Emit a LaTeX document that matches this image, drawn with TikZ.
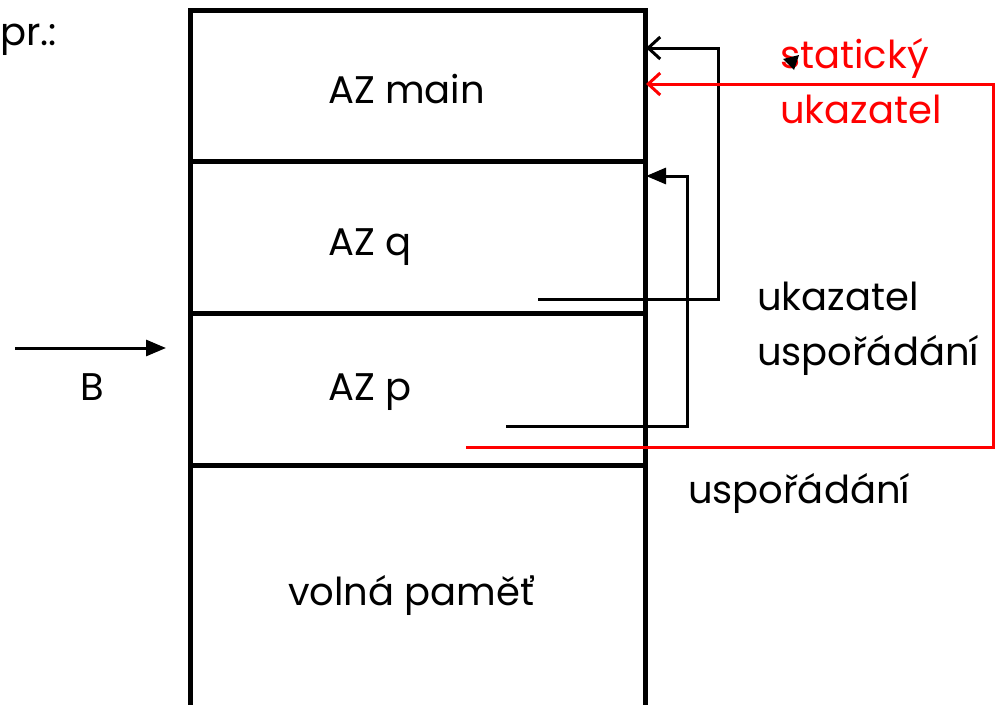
\documentclass[tikz,border=0pt]{standalone}
\usepackage{fontspec}
\setmainfont{Poppins}
\usetikzlibrary{arrows.meta}
\begin{document}
\begin{tikzpicture}[x=1pt,y=-1pt,
  cell/.style={draw, line width=5pt, inner sep=0pt, minimum width=455pt, anchor=north west},
  txt/.style={anchor=base west, inner sep=0pt, font=\fontsize{38.5}{44}\selectfont},
  redtxt/.style={txt, text=red},
  link/.style={line width=3pt, line join=miter},
  openhead/.style={-{Straight Barb[length=12pt, width=22pt, line width=3pt]}},
  fullhead/.style={-{Triangle[length=20pt, width=16pt]}}]
\useasboundingbox (0,0) rectangle (995,704);

% memory blocks
\node[cell, minimum height=151pt] (main) at (188,8) {};
\node[cell, minimum height=152pt] (q) at (188,159) {};
\node[cell, minimum height=152pt] (p) at (188,311) {};
\node[cell, minimum height=260pt] (free) at (188,463) {};

% labels
\node[txt] (pr) at (0,45) {pr.:};
\node[txt] (lmain) at (328,103) {AZ main};
\node[txt] (lq) at (328,255) {AZ q};
\node[txt] (lp) at (328,400) {AZ p};
\node[txt] (lfree) at (288,605) {volná paměť};
\node[txt] (lB) at (80,400) {B};
\node[redtxt] (ls1) at (780,68) {statický};
\node[redtxt] (ls2) at (780,123) {ukazatel};
\node[txt] (lu1) at (757,310) {ukazatel};
\node[txt] (lu2) at (757,365) {uspořádání};
\node[txt] (lu3) at (688,503) {uspořádání};

% pointer ends
\coordinate (qptr) at (538,299);
\coordinate (pptr) at (506,426);
\coordinate (sptr) at (466,447);
\coordinate (mainA) at (646,48);
\coordinate (mainB) at (646,84);
\coordinate (qA) at (646,176);
\coordinate (Bstart) at (15,348);
\coordinate (Bend) at (166,348);

% dynamic link chain
\draw[link, openhead] (qptr) -- (718,299) -- (718,48) -- (mainA);
\draw[link, fullhead] (pptr) -- (687,426) -- (687,176) -- (qA);
% static link
\draw[link, red, openhead] (sptr) -- (993,447) -- (993,84) -- (mainB);
% pointer B
\draw[link, fullhead] (Bstart) -- (Bend);

% small cursor tip
\fill (783,59) -- (799,55) -- (794,70) -- cycle;
\end{tikzpicture}
\end{document}
